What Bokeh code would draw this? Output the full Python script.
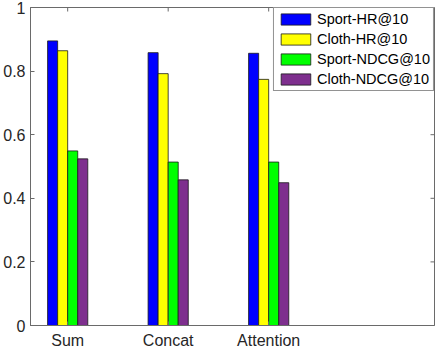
from bokeh.plotting import figure
from bokeh.models import ColumnDataSource, FixedTicker, Legend, LegendItem, Range1d
from bokeh.transform import dodge
from bokeh.embed import file_html
from bokeh.resources import INLINE

methods = ["Sum", "Concat", "Attention"]
positions = [1, 2, 3]
series = ["Sport-HR@10", "Cloth-HR@10", "Sport-NDCG@10", "Cloth-NDCG@10"]
sport_hr = [0.895, 0.858, 0.856]
cloth_hr = [0.864, 0.792, 0.774]
sport_ndcg = [0.549, 0.514, 0.514]
cloth_ndcg = [0.524, 0.458, 0.449]
colors = ["#0000FF", "#FFFF00", "#00FF00", "#7E2F8E"]
y_ticks = [0, 0.2, 0.4, 0.6, 0.8, 1]
y_tick_labels = ["0", "0.2", "0.4", "0.6", "0.8", "1"]

src = ColumnDataSource(dict(x=positions, s1=sport_hr, s2=cloth_hr, s3=sport_ndcg, s4=cloth_ndcg))

FONT = "Liberation Sans"
AX = "#6a6a6a"
TXT = "#262626"
X0, X1 = 0.63, 4.65
Y0, Y1 = 0.0, 1.0
FW, FH = 404, 318

p = figure(frame_width=FW, frame_height=FH, output_backend="svg", toolbar_location=None,
           x_range=Range1d(X0, X1), y_range=Range1d(Y0, Y1),
           min_border_left=30, min_border_top=7, min_border_right=4, min_border_bottom=0)
p.xgrid.visible = False
p.ygrid.visible = False
p.outline_line_color = AX
p.outline_line_width = 1
p.background_fill_color = "white"

bw = 0.1
offs = [-0.15, -0.05, 0.05, 0.15]
cols = ["s1", "s2", "s3", "s4"]
renderers = []
for c, o, col in zip(cols, offs, colors):
    r = p.vbar(x=dodge("x", o, range=p.x_range), top=c, width=bw, bottom=0, source=src,
               fill_color=col, line_color="#1a1a1a", line_width=0.8)
    renderers.append(r)

def style(ax):
    ax.axis_line_color = AX
    ax.major_tick_line_color = AX
    ax.major_tick_in = 4
    ax.major_tick_out = 0
    ax.minor_tick_line_color = None
    ax.major_label_text_font = FONT
    ax.major_label_text_color = TXT
    ax.major_label_text_font_size = "16px"

xa = p.xaxis[0]
xa.ticker = FixedTicker(ticks=positions)
xa.major_label_overrides = {pos: m for pos, m in zip(positions, methods)}
style(xa)
xa.major_label_standoff = 6

ya = p.yaxis[0]
ya.ticker = FixedTicker(ticks=y_ticks)
ya.major_label_overrides = {t: l for t, l in zip(y_ticks, y_tick_labels)}
style(ya)
ya.major_label_standoff = 5

# inward ticks on the top and right edges of the box (MATLAB "box on")
tl_y = 4 * (Y1 - Y0) / FH
tl_x = 4 * (X1 - X0) / FW
p.segment(x0=positions, y0=[Y1] * len(positions), x1=positions, y1=[Y1 - tl_y] * len(positions),
          line_color=AX, line_width=1)
p.segment(x0=[X1] * len(y_ticks), y0=y_ticks, x1=[X1 - tl_x] * len(y_ticks), y1=y_ticks,
          line_color=AX, line_width=1)

legend = Legend(items=[LegendItem(label=s, renderers=[r]) for s, r in zip(series, renderers)],
                location="top_right", margin=0, padding=3, spacing=4,
                glyph_width=37, glyph_height=14, label_height=14, label_standoff=3,
                label_text_font=FONT, label_text_font_size="14.5px", label_text_color="black",
                border_line_color="#262626", border_line_width=1, background_fill_alpha=1)
p.add_layout(legend, "center")

open("out.html", "w").write(file_html(p, INLINE))
